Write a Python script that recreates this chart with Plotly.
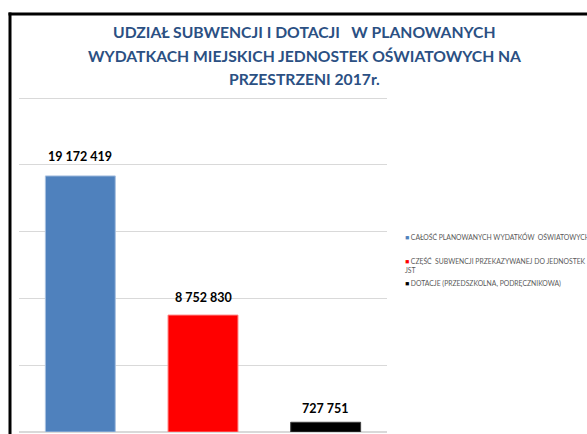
import plotly.graph_objects as go

categories = ["CAŁOŚĆ PLANOWANYCH WYDATKÓW  OŚWIATOWYCH",
              "CZĘŚĆ  SUBWENCJI PRZEKAZYWANEJ DO JEDNOSTEK<br>JST",
              "DOTACJE (PRZEDSZKOLNA, PODRĘCZNIKOWA)"]
values = [19172419, 8752830, 727751]
value_labels = ["19 172 419", "8 752 830", "727 751"]
colors = ["#4F81BD", "#FF0000", "#000000"]
title_lines = ["UDZIAŁ SUBWENCJI I DOTACJI   W PLANOWANYCH",
               "WYDATKACH MIEJSKICH JEDNOSTEK OŚWIATOWYCH NA",
               "PRZESTRZENI 2017r."]

W, H = 587, 434
L, R, T, B = 19, 200, 97, 2
pw, ph = W - L - R, H - T - B

def px_x(px):
    return (px - L) / pw

def px_y(py):
    return (H - B - py) / ph

fig = go.Figure()
xs = [0, 1, 2]
fig.add_trace(go.Bar(x=xs, y=values, marker=dict(color=colors, line=dict(color=["#A9C1E0", "#FF8080", "#404040"], width=1)),
                     width=0.57, showlegend=False, hoverinfo="skip"))
legend_ids = ["legend", "legend2", "legend3"]
legend_ys = [237, 266, 283]
for c, col, lg in zip(categories, colors, legend_ids):
    label = '<span style="color:%s">■</span> %s' % (col, c)
    fig.add_trace(go.Scatter(x=[None], y=[None], mode="markers", name=label,
                             marker=dict(symbol="square", size=1, color="rgba(0,0,0,0)"),
                             legend=lg))

for x, v, t, ys in zip(xs, values, value_labels, [10, 8, 4]):
    fig.add_annotation(x=x, y=v, text="<b>%s</b>" % t, showarrow=False, yanchor="bottom",
                       yshift=ys, font=dict(family="Lato", size=12.5, color="#000000"))

for line, py in zip(title_lines, [32, 55.5, 79]):
    fig.add_annotation(xref="paper", yref="paper", x=px_x(304), y=px_y(py), text="<b>%s</b>" % line,
                       showarrow=False, xanchor="center", yanchor="middle",
                       font=dict(family="Lato", size=15.7, color="#2B5083"))

# frame lines
fig.add_shape(type="line", xref="paper", yref="paper", x0=px_x(8.5), x1=px_x(600), y0=px_y(14), y1=px_y(14),
              line=dict(color="black", width=3))
fig.add_shape(type="line", xref="paper", yref="paper", x0=px_x(10), x1=px_x(10), y0=px_y(12.5), y1=px_y(440),
              line=dict(color="black", width=3))

legend_style = dict(xanchor="left", yanchor="middle",
                    font=dict(family="Lato", size=6.8, color="#595959"),
                    itemsizing="trace", bgcolor="rgba(0,0,0,0)")
layout_legends = {}
for lg, ly in zip(legend_ids, legend_ys):
    layout_legends[lg] = dict(x=px_x(365), y=px_y(ly), **legend_style)

fig.update_layout(
    width=W, height=H,
    margin=dict(l=L, r=R, t=T, b=B, autoexpand=False),
    paper_bgcolor="white", plot_bgcolor="white",
    xaxis=dict(range=[-0.5, 2.5], showticklabels=False, showgrid=False, zeroline=False, ticks=""),
    yaxis=dict(range=[0, 25080000], dtick=5000000, showticklabels=False, showgrid=True,
               gridcolor="#D9D9D9", gridwidth=1, zeroline=True, zerolinecolor="#D9D9D9", ticks=""),
    showlegend=True,
    **layout_legends,
)

fig.write_html("out.html", config={"displayModeBar": False},
               post_script="document.body.style.margin='0';document.body.style.overflow='hidden';")
